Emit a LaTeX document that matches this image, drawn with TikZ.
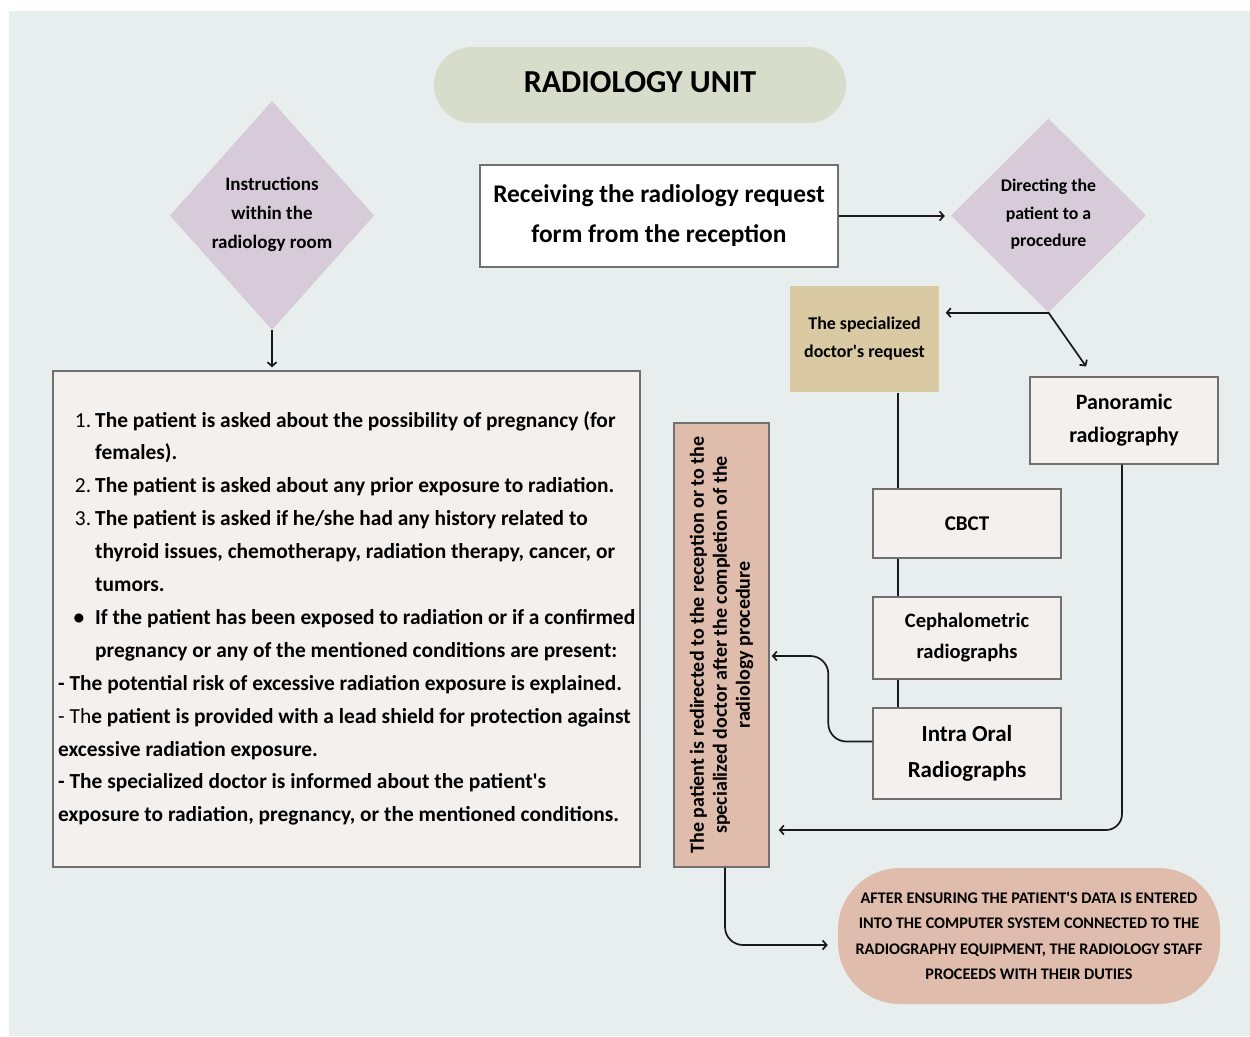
\documentclass[tikz,border=0pt]{standalone}
\usepackage{fontspec}
\setmainfont{Carlito}
\usetikzlibrary{shapes.geometric,arrows.meta,calc}

\definecolor{bgc}{HTML}{E8EDED}
\definecolor{titlec}{HTML}{D8DCCA}
\definecolor{lilac}{HTML}{D7CBDA}
\definecolor{sand}{HTML}{D9CAA3}
\definecolor{salmon}{HTML}{DFBCAB}
\definecolor{paper}{HTML}{F4F0ED}
\definecolor{edge}{HTML}{707070}

\newcommand{\fs}[2]{\bfseries\fontsize{#1}{#2}\selectfont}
\newcommand{\apos}{\textquotesingle}

\tikzset{
  box/.style={draw=edge, line width=1.4pt, fill=paper, inner sep=0pt, align=center},
  plain/.style={inner sep=0pt, align=center},
  dia/.style={diamond, fill=lilac, inner sep=0pt},
  conn/.style={line width=1.7pt, black!90},
  arr/.style={conn, -{Straight Barb[length=4pt,width=9pt]}},
}

\begin{document}
\begin{tikzpicture}[x=1pt,y=-1pt]
\useasboundingbox (0,0) rectangle (1250,1036);
\fill[bgc] (9,11) rectangle (1250,1036);

% title
\node[plain, fill=titlec, rounded corners=38pt, minimum width=412pt, minimum height=76pt] (title) at (640,85) {};
\node[plain, font=\fs{32}{40}] at (640,82) {RADIOLOGY UNIT};

% diamonds
\node[dia, minimum width=204pt, minimum height=229pt] (d1) at (272,215.5) {};
\node[plain, font=\fs{19}{29}] (d1t) at (272,214) {Instructions\\within the\\radiology room};
\node[dia, minimum width=195pt, minimum height=194pt] (d2) at (1048.5,215.5) {};
\node[plain, font=\fs{17.8}{27.5}] (d2t) at (1048.5,214.5) {Directing the\\patient to a\\procedure};

% request box
\node[box, fill=white, minimum width=358pt, minimum height=102pt, font=\fs{25.4}{40}] (recv) at (659,216) {Receiving the radiology request\\form from the reception};

% procedure boxes
\node[box, draw=none, fill=sand, minimum width=149pt, minimum height=106pt, font=\fs{17.9}{28}] (spec) at (864.5,339) {The specialized\\doctor\apos s request};
\node[box, minimum width=188pt, minimum height=87pt, font=\fs{22}{33}] (pano) at (1124,420.5) {Panoramic\\radiography};
\node[box, minimum width=188pt, minimum height=69pt, font=\fs{21}{31}] (cbct) at (967,523.5) {CBCT};
\node[box, minimum width=188pt, minimum height=82pt, font=\fs{20.5}{31}] (ceph) at (967,638) {Cephalometric\\radiographs};
\node[box, minimum width=188pt, minimum height=91pt, font=\fs{23}{36}] (intra) at (967,753.5) {Intra Oral\\Radiographs};

% redirect box
\node[box, fill=salmon, rotate=90, minimum width=444pt, minimum height=95pt, font=\fs{20}{23}] (vbox) at (721.5,645) {The patient is redirected to the reception or to the\\specialized doctor after the completion of the\\radiology procedure};

% final statement
\node[plain, fill=salmon, rounded corners=62pt, minimum width=382pt, minimum height=136pt, font=\fs{16.2}{25.3}] (fin) at (1029,936) {AFTER ENSURING THE PATIENT\apos S DATA IS ENTERED\\INTO THE COMPUTER SYSTEM CONNECTED TO THE\\RADIOGRAPHY EQUIPMENT, THE RADIOLOGY STAFF\\PROCEEDS WITH THEIR DUTIES};

% instructions box
\node[box, minimum width=587pt, minimum height=496pt] (instr) at (346.5,619) {};
\node[anchor=base west, inner sep=0pt, font=\fs{21.4}{32.9}] (instrt) at (58,427) {\parbox[t]{585pt}{%
\makebox[37pt][r]{\mdseries 1.\hspace{4pt}}The patient is asked about the possibility of pregnancy (for\\
\hspace*{37pt}females).\\
\makebox[37pt][r]{\mdseries 2.\hspace{4pt}}The patient is asked about any prior exposure to radiation.\\
\makebox[37pt][r]{\mdseries 3.\hspace{4pt}}The patient is asked if he/she had any history related to\\
\hspace*{37pt}thyroid issues, chemotherapy, radiation therapy, cancer, or\\
\hspace*{37pt}tumors.\\
\makebox[37pt][r]{\textbullet\hspace{11pt}}If the patient has been exposed to radiation or if a confirmed\\
\hspace*{37pt}pregnancy or any of the mentioned conditions are present:\\
- The potential risk of excessive radiation exposure is explained.\\
{\mdseries - Th}e patient is provided with a lead shield for protection against\\
excessive radiation exposure.\\
- The specialized doctor is informed about the patient\apos s\\
exposure to radiation, pregnancy, or the mentioned conditions.}};

% connectors
\coordinate (yA) at (0,656);
\coordinate (yB) at (0,830);
\draw[arr, shorten >=3pt] (d1.south) -- (d1.south |- instr.north);
\draw[arr, shorten >=6pt] (recv.east) -- (recv.east -| d2.west);
\draw[arr, shorten >=6pt] (d2.south) -- (d2.south -| spec.east);
\draw[arr, shorten >=12pt] (d2.south) -- ([xshift=-31pt]pano.north);
\draw[conn] ([xshift=26pt]cbct.north west |- spec.south) -- ([xshift=26pt]cbct.north west);
\draw[conn] ([xshift=26pt]cbct.south west) -- ([xshift=26pt]ceph.north west);
\draw[conn] ([xshift=26pt]ceph.south west) -- ([xshift=26pt]intra.north west);
\draw[arr, rounded corners=18pt, shorten >=2pt] ([yshift=12pt]intra.west) -- ++(-44,0) |- (vbox.south |- yA);
\draw[arr, rounded corners=16pt, shorten >=9pt] ([xshift=-2pt]pano.south) |- (vbox.south |- yB);
\draw[arr, rounded corners=18pt, shorten >=10pt] ([xshift=3.5pt]vbox.west) |- ([yshift=-9pt]fin.west);
\end{tikzpicture}
\end{document}
